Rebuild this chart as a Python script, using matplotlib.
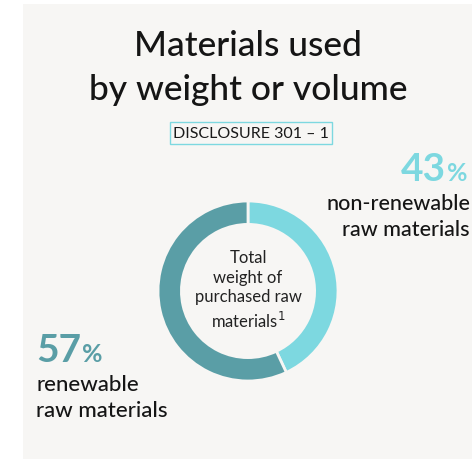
import matplotlib
matplotlib.use("Agg")
import matplotlib.pyplot as plt
from matplotlib.patches import Rectangle

categories = ["non-renewable\nraw materials", "renewable\nraw materials"]
values = [43, 57]
colors = ["#7dd8e0", "#5a9ea6"]
title = "Materials used\nby weight or volume"
subtitle = "DISCLOSURE 301 – 1"
center_label = "Total\nweight of\npurchased raw\nmaterials$^1$"

W, H = 472, 460
fig = plt.figure(figsize=(W / 100, H / 100), dpi=100)
fig.patch.set_facecolor("white")
FONT = "Lato"

bg = fig.add_axes([0, 0, 1, 1])
bg.set_xlim(0, W)
bg.set_ylim(H, 0)
bg.axis("off")
bg.add_patch(Rectangle((23, 5), W - 23, H - 5, facecolor="#f7f6f4", edgecolor="none"))

bg.text(248, 68, title, ha="center", va="center", fontsize=25.5, family=FONT,
        fontweight="medium", color="#151515", linespacing=1.46)
bg.text(251, 134, subtitle, ha="center", va="center", fontsize=11.5, family=FONT,
        color="#1a1a1a",
        bbox=dict(boxstyle="square,pad=0.22", facecolor="none", edgecolor="#7dd8e0", linewidth=1))

# donut
cx, cy, r = 248, 292, 90
pax = fig.add_axes([(cx - r) / W, (H - cy - r) / H, 2 * r / W, 2 * r / H])
pax.pie(values, colors=colors, startangle=90, counterclock=False,
        wedgeprops=dict(width=0.26, edgecolor="#f7f6f4", linewidth=2))
pax.set_xlim(-1, 1)
pax.set_ylim(-1, 1)
pax.axis("off")
pax.text(0, 0.02, center_label, ha="center", va="center", fontsize=12, family=FONT,
         color="#222222", linespacing=1.3)

# labels
bg.text(446, 170, f"{values[0]}", ha="right", va="center", fontsize=28,
        family=FONT, fontweight="bold", color=colors[0])
bg.text(447, 174, "%", ha="left", va="center", fontsize=18, family=FONT,
        fontweight="bold", color=colors[0])
bg.text(470, 217, categories[0], ha="right", va="center", fontsize=15.5, family=FONT,
        fontweight="medium", color="#151515", linespacing=1.4, multialignment="right")

bg.text(36, 351, f"{values[1]}", ha="left", va="center", fontsize=28,
        family=FONT, fontweight="bold", color=colors[1])
bg.text(82, 355, "%", ha="left", va="center", fontsize=18, family=FONT,
        fontweight="bold", color=colors[1])
bg.text(36, 398, categories[1], ha="left", va="center", fontsize=16, family=FONT,
        fontweight="medium", color="#151515", linespacing=1.4)

fig.savefig("out.png", dpi=100, facecolor="white")
